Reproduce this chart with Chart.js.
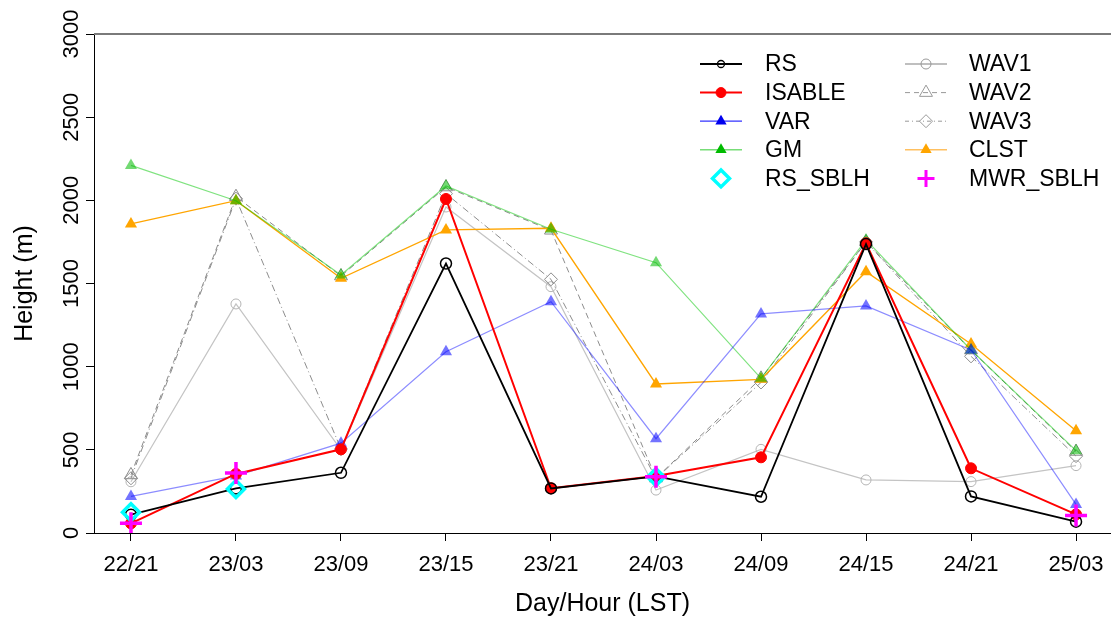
<!DOCTYPE html>
<html>
<head>
<meta charset="utf-8">
<script src="https://cdn.jsdelivr.net/npm/chart.js@4.4.1/dist/chart.umd.min.js"></script>
<style>
  html, body { margin: 0; padding: 0; background: #fff; overflow: hidden; }
  #wrap { width: 1111px; height: 623px; position: relative; }
</style>
</head>
<body>
<div id="wrap"><canvas id="c" width="1111" height="623"></canvas></div>
<script>
// Observation times (day/hour, local solar time)
const categories = ['22/21', '23/03', '23/09', '23/15', '23/21', '24/03', '24/09', '24/15', '24/21', '25/03'];
const yTicks = [0, 500, 1000, 1500, 2000, 2500, 3000];

// Boundary-layer heights (m) per method
const rs      = [110, 268, 362, 1620, 268, 340, 218, 1737, 220, 68];
const isable  = [58, 355, 503, 2008, 269, 343, 455, 1742, 389, 112];
const varH    = [220, 343, 540, 1090, 1391, 567, 1317, 1365, 1100, 172];
const gm      = [2210, 1998, 1551, 2086, 1826, 1625, 930, 1762, 1100, 495];
const clst    = [1858, 1998, 1531, 1822, 1832, 896, 924, 1571, 1136, 615];
const wav1    = [308, 1377, 500, 1960, 1481, 258, 503, 319, 309, 405];
const wav2    = [349, 2022, 1545, 2080, 1820, 330, 930, 1750, 1100, 490];
const wav3    = [329, 2010, 505, 2040, 1525, 328, 905, 1750, 1062, 462];
const rsSblh  = [125, 265, null, null, null, 336, null, null, null, null];
const mwrSblh = [58, 360, null, null, null, 338, null, null, null, 105];

const FONT = '"Liberation Sans", Arial, sans-serif';
Chart.defaults.font.family = FONT;

const toPoints = arr => arr.map((v, i) => ({ x: i, y: v }));
const CLEAR = 'rgba(0,0,0,0)';

const datasets = [
  { label: 'RS', data: toPoints(rs), order: 2,
    borderColor: '#000', borderWidth: 1.8, pointStyle: 'circle', pointRadius: 5.5,
    pointBorderColor: '#000', pointBackgroundColor: CLEAR, pointBorderWidth: 1.5,
    legendStyle: { line: '#000', lw: 1.8, shape: 'circle', r: 3.5, stroke: '#000', fill: null, plw: 1.3 } },
  { label: 'ISABLE', data: toPoints(isable), order: 3,
    borderColor: '#ff0000', borderWidth: 2, pointStyle: 'circle', pointRadius: 5.5,
    pointBorderColor: '#ff0000', pointBackgroundColor: '#ff0000', pointBorderWidth: 1,
    legendStyle: { line: '#ff0000', lw: 2, shape: 'circle', r: 5, stroke: '#ff0000', fill: '#ff0000', plw: 1 } },
  { label: 'VAR', data: toPoints(varH), order: 4,
    borderColor: 'rgba(0,0,255,0.45)', borderWidth: 1.2, pointStyle: 'triangle', pointRadius: 7,
    pointBorderColor: CLEAR, pointBackgroundColor: 'rgba(0,0,255,0.55)', pointBorderWidth: 0,
    legendStyle: { line: '#3333ff', lw: 1.3, shape: 'triangle', r: 6.5, stroke: null, fill: '#0000ee', plw: 0 } },
  { label: 'GM', data: toPoints(gm), order: 5,
    borderColor: 'rgba(0,200,0,0.5)', borderWidth: 1.2, pointStyle: 'triangle', pointRadius: 7,
    pointBorderColor: CLEAR, pointBackgroundColor: 'rgba(0,185,0,0.55)', pointBorderWidth: 0,
    legendStyle: { line: '#77dd77', lw: 1.5, shape: 'triangle', r: 6.5, stroke: null, fill: '#00bb00', plw: 0 } },
  { label: 'RS_SBLH', data: toPoints(rsSblh), order: 1, showLine: false,
    pointStyle: 'rectRot', pointRadius: 8.5, pointBorderColor: '#00ffff',
    pointBackgroundColor: CLEAR, pointBorderWidth: 3.5,
    legendStyle: { line: null, shape: 'rectRot', r: 8.5, stroke: '#00ffff', fill: null, plw: 3.5 } },
  { label: 'WAV1', data: toPoints(wav1), order: 9,
    borderColor: '#c4c4c4', borderWidth: 1.2, pointStyle: 'circle', pointRadius: 5,
    pointBorderColor: '#b4b4b4', pointBackgroundColor: CLEAR, pointBorderWidth: 1,
    legendStyle: { line: '#aaaaaa', lw: 1.3, shape: 'circle', r: 5, stroke: '#999', fill: null, plw: 1 } },
  { label: 'WAV2', data: toPoints(wav2), order: 8,
    borderColor: '#8c8c8c', borderWidth: 1, borderDash: [6, 4], pointStyle: 'triangle', pointRadius: 7.5,
    pointBorderColor: '#8c8c8c', pointBackgroundColor: CLEAR, pointBorderWidth: 1,
    legendStyle: { line: '#999', lw: 1, dash: [5, 4], shape: 'triangle', r: 7.5, stroke: '#999', fill: null, plw: 1 } },
  { label: 'WAV3', data: toPoints(wav3), order: 7,
    borderColor: '#8c8c8c', borderWidth: 1, borderDash: [7, 3, 1, 3], pointStyle: 'rectRot', pointRadius: 6.5,
    pointBorderColor: '#8c8c8c', pointBackgroundColor: CLEAR, pointBorderWidth: 1,
    legendStyle: { line: '#999', lw: 1, dash: [4, 3, 1, 3], shape: 'rectRot', r: 6.5, stroke: '#999', fill: null, plw: 1 } },
  { label: 'CLST', data: toPoints(clst), order: 6,
    borderColor: '#ffa500', borderWidth: 1.3, pointStyle: 'triangle', pointRadius: 7,
    pointBorderColor: CLEAR, pointBackgroundColor: '#ffa500', pointBorderWidth: 0,
    legendStyle: { line: '#ffc060', lw: 1.5, shape: 'triangle', r: 6.5, stroke: null, fill: '#ffa500', plw: 0 } },
  { label: 'MWR_SBLH', data: toPoints(mwrSblh), order: 0, showLine: false,
    pointStyle: 'cross', pointRadius: 11, pointBorderColor: '#ff00ff',
    pointBackgroundColor: CLEAR, pointBorderWidth: 3.5,
    legendStyle: { line: null, shape: 'cross', r: 8.5, stroke: '#ff00ff', fill: null, plw: 3 } }
];

// Marker path shapes, same geometry as Chart.js point styles
function markerPath(ctx, shape, x, y, r) {
  ctx.beginPath();
  if (shape === 'circle') {
    ctx.arc(x, y, r, 0, Math.PI * 2);
  } else if (shape === 'triangle') {
    let a = 0;
    ctx.moveTo(x + Math.sin(a) * r, y - Math.cos(a) * r);
    a += 2 * Math.PI / 3;
    ctx.lineTo(x + Math.sin(a) * r, y - Math.cos(a) * r);
    a += 2 * Math.PI / 3;
    ctx.lineTo(x + Math.sin(a) * r, y - Math.cos(a) * r);
    ctx.closePath();
  } else if (shape === 'rectRot') {
    ctx.moveTo(x - r, y); ctx.lineTo(x, y - r); ctx.lineTo(x + r, y); ctx.lineTo(x, y + r);
    ctx.closePath();
  } else if (shape === 'cross') {
    ctx.moveTo(x, y - r); ctx.lineTo(x, y + r);
    ctx.moveTo(x - r, y); ctx.lineTo(x + r, y);
  }
}

// Two-column key in the upper right of the plot
const keyPlugin = {
  id: 'twoColumnKey',
  afterDatasetsDraw(chart) {
    const ctx = chart.ctx;
    const cols = [{ x0: 700, x1: 742, mx: 721, tx: 765 }, { x0: 905, x1: 947, mx: 926, tx: 969 }];
    const rowY = i => 64 + i * 28.6;
    ctx.save();
    chart.data.datasets.forEach((ds, idx) => {
      const col = cols[Math.floor(idx / 5)];
      const y = rowY(idx % 5);
      const s = ds.legendStyle;
      if (s.line) {
        ctx.save();
        ctx.strokeStyle = s.line; ctx.lineWidth = s.lw;
        ctx.setLineDash(s.dash || []);
        ctx.beginPath(); ctx.moveTo(col.x0, y); ctx.lineTo(col.x1, y); ctx.stroke();
        ctx.restore();
      }
      ctx.save();
      markerPath(ctx, s.shape, col.mx, y, s.r);
      if (s.fill) { ctx.fillStyle = s.fill; ctx.fill(); }
      if (s.stroke && s.plw > 0) { ctx.strokeStyle = s.stroke; ctx.lineWidth = s.plw; ctx.stroke(); }
      ctx.restore();
      ctx.fillStyle = '#000';
      ctx.font = '23px ' + FONT;
      ctx.textAlign = 'left'; ctx.textBaseline = 'middle';
      ctx.fillText(ds.label, col.tx, y + 1);
    });
    ctx.restore();
  }
};

// Vertical tick labels on the height axis and the top rule of the frame
const framePlugin = {
  id: 'frameAndYLabels',
  afterDraw(chart) {
    const ctx = chart.ctx;
    const ys = chart.scales.y;
    const area = chart.chartArea;
    ctx.save();
    ctx.strokeStyle = '#7a7a7a'; ctx.lineWidth = 2;
    ctx.beginPath(); ctx.moveTo(area.left, area.top); ctx.lineTo(chart.width, area.top); ctx.stroke();
    ctx.fillStyle = '#000';
    ctx.font = '22px ' + FONT;
    ctx.textAlign = 'center'; ctx.textBaseline = 'middle';
    yTicks.forEach(v => {
      const py = ys.getPixelForValue(v);
      ctx.save();
      ctx.translate(72, py);
      ctx.rotate(-Math.PI / 2);
      ctx.fillText(String(v), 0, 0);
      ctx.restore();
    });
    ctx.restore();
  }
};

new Chart(document.getElementById('c'), {
  type: 'line',
  data: { datasets },
  options: {
    responsive: false,
    animation: false,
    devicePixelRatio: 1,
    layout: { autoPadding: false, padding: { top: 34, right: 0, bottom: 0, left: 0 } },
    plugins: { legend: { display: false }, tooltip: { enabled: false } },
    elements: { line: { tension: 0 } },
    scales: {
      x: {
        type: 'linear',
        min: -0.352, max: 9.333,
        afterBuildTicks: s => { s.ticks = categories.map((_, i) => ({ value: i })); },
        afterFit: s => { s.height = 90; s.paddingLeft = 0; s.paddingRight = 0; },
        ticks: {
          autoSkip: false, maxRotation: 0, minRotation: 0,
          color: '#000', font: { size: 22, family: FONT }, padding: 11,
          callback: v => (categories[v] !== undefined ? categories[v] : '')
        },
        grid: { display: true, drawOnChartArea: false, drawTicks: true, tickLength: 8, color: '#000', lineWidth: 1 },
        border: { display: true, color: '#000', width: 1 },
        title: { display: true, text: 'Day/Hour (LST)', color: '#000',
                 font: { size: 25, family: FONT }, padding: { top: 0, bottom: 4 } }
      },
      y: {
        type: 'linear',
        min: 0, max: 3000,
        afterBuildTicks: s => { s.ticks = yTicks.map(v => ({ value: v })); },
        afterFit: s => { s.width = 94; s.paddingTop = 0; s.paddingBottom = 0; },
        ticks: { display: false },
        grid: { display: true, drawOnChartArea: false, drawTicks: true, tickLength: 8, color: '#000', lineWidth: 1 },
        border: { display: true, color: '#000', width: 1 },
        title: { display: true, text: 'Height (m)', color: '#000',
                 font: { size: 25, family: FONT }, padding: { top: 10, bottom: 0 } }
      }
    }
  },
  plugins: [keyPlugin, framePlugin]
});
</script>
</body>
</html>
